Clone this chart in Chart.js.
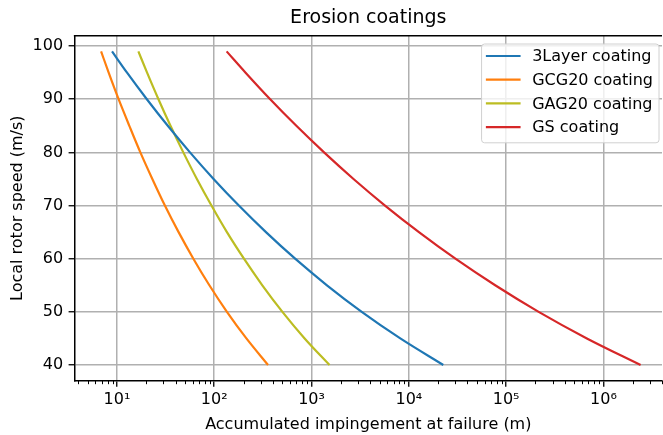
<!DOCTYPE html>
<html>
<head>
<meta charset="utf-8">
<script src="https://cdn.jsdelivr.net/npm/chart.js@4.4.0/dist/chart.umd.min.js"></script>
<style>
    html, body { margin: 0; padding: 0; background: #fff; overflow: hidden; }
</style>
</head>
<body>
<canvas id="erosionChart" width="663" height="435"></canvas>
<script>
// local rotor speed (m/s), read at these points along every curve
const speeds = [99, 95, 90, 85, 80, 75, 70, 65, 60, 55, 50, 45, 40];

// accumulated impingement at failure (m)
const layer3 = [8.9, 12.7, 20.3, 33.3, 56.3, 98.4, 179, 340, 678, 1440, 3280, 8170, 22600];
const gcg20 = [6.87, 8.22, 10.4, 13.4, 17.4, 23.1, 31.1, 43.0, 61.0, 89.1, 135, 214, 357];
const gag20 = [16.6, 20.4, 26.7, 35.5, 48.1, 66.3, 93.6, 135, 202, 312, 502, 849, 1530];
const gs = [134, 210, 376, 698, 1345, 2700, 5690, 12700, 30100, 77200, 216000, 676000, 2410000];

const seriesLabels = ['3Layer coating', 'GCG20 coating', 'GAG20 coating', 'GS coating'];
const xTicks = [10, 100, 1000, 10000, 100000, 1000000];
const xTickLabels = ['10¹', '10²', '10³', '10⁴', '10⁵', '10⁶'];
const yTicks = [40, 50, 60, 70, 80, 90, 100];

const FONT = '"DejaVu Sans", "Liberation Sans", sans-serif';
const colors = ['#1f77b4', '#ff7f0e', '#bcbd22', '#d62728'];

function toPoints(values) {
    return speeds.map((v, i) => ({ x: values[i], y: v }));
}

// top spine + minor ticks on the log axis
const framePlugin = {
    id: 'frame',
    afterDraw(chart) {
        const { ctx, chartArea } = chart;
        const xs = chart.scales.x;
        ctx.save();
        ctx.strokeStyle = '#000';
        ctx.lineWidth = 1.5;
        ctx.beginPath();
        ctx.moveTo(chartArea.left - 0.75, chartArea.top);
        ctx.lineTo(chartArea.right, chartArea.top);
        ctx.stroke();

        ctx.lineWidth = 1;
        ctx.beginPath();
        for (let d = 1; d <= 1e6; d *= 10) {
            for (let m = 2; m <= 9; m++) {
                const v = m * d;
                if (v < xs.min || v > xs.max) continue;
                const px = Math.round(xs.getPixelForValue(v)) + 0.5;
                ctx.moveTo(px, chartArea.bottom);
                ctx.lineTo(px, chartArea.bottom + 3.5);
            }
        }
        ctx.stroke();
        ctx.restore();
    }
};

// matplotlib-like legend box in the upper right corner
const legendPlugin = {
    id: 'boxLegend',
    afterDraw(chart) {
        const { ctx, chartArea } = chart;
        const sets = chart.data.datasets;
        ctx.save();
        ctx.font = '16px ' + FONT;
        const textW = Math.max(...sets.map(d => ctx.measureText(d.label).width));
        const rowH = 23.7;
        const w = 4.3 + 34.7 + 11.6 + textW + 6;
        const h = rowH * sets.length + 4;
        const right = chartArea.right - 3;
        const left = right - w;
        const top = chartArea.top + 8.3;

        ctx.beginPath();
        ctx.roundRect(left, top, w, h, 3);
        ctx.fillStyle = 'rgba(255,255,255,0.8)';
        ctx.fill();
        ctx.strokeStyle = '#d0d0d0';
        ctx.lineWidth = 1;
        ctx.stroke();

        sets.forEach((d, i) => {
            const cy = top + 12 + rowH * i;
            ctx.strokeStyle = d.borderColor;
            ctx.lineWidth = d.borderWidth;
            ctx.beginPath();
            ctx.moveTo(left + 4.3, cy);
            ctx.lineTo(left + 39, cy);
            ctx.stroke();
            ctx.fillStyle = '#000';
            ctx.textBaseline = 'middle';
            ctx.textAlign = 'left';
            ctx.fillText(d.label, left + 50.6, cy + 1);
        });
        ctx.restore();
    }
};

document.addEventListener('DOMContentLoaded', function () {
    const allSeries = [layer3, gcg20, gag20, gs];

    new Chart(document.getElementById('erosionChart'), {
        type: 'line',
        data: {
            datasets: allSeries.map((vals, i) => ({
                label: seriesLabels[i],
                data: toPoints(vals),
                borderColor: colors[i],
                backgroundColor: colors[i],
                borderWidth: 2.2,
                pointRadius: 0,
                fill: false,
                cubicInterpolationMode: 'monotone'
            }))
        },
        options: {
            responsive: false,
            animation: false,
            layout: { padding: { left: 0, right: 1, top: 0, bottom: 0 } },
            scales: {
                x: {
                    type: 'logarithmic',
                    min: 3.67,
                    max: 4.0e6,
                    afterBuildTicks: scale => { scale.ticks = xTicks.map(v => ({ value: v })); },
                    afterFit: scale => { scale.height = 54.3; },
                    ticks: {
                        autoSkip: false,
                        maxRotation: 0,
                        padding: 4,
                        color: '#000',
                        font: { family: FONT, size: 16 },
                        callback: (value, index) => xTickLabels[index]
                    },
                    grid: { color: '#b0b0b0', lineWidth: 1.5, tickColor: '#000', tickLength: 6, tickWidth: 1.3 },
                    border: { display: true, color: '#000', width: 1.5 },
                    title: {
                        display: true,
                        text: 'Accumulated impingement at failure (m)',
                        color: '#000',
                        font: { family: FONT, size: 16 },
                        padding: { top: 0, bottom: 1 }
                    }
                },
                y: {
                    type: 'linear',
                    min: 37.05,
                    max: 101.95,
                    afterBuildTicks: scale => { scale.ticks = yTicks.map(v => ({ value: v })); },
                    afterFit: scale => { scale.width = 74.6; },
                    ticks: {
                        padding: 5.5,
                        color: '#000',
                        font: { family: FONT, size: 16 }
                    },
                    grid: { color: '#b0b0b0', lineWidth: 1.5, tickColor: '#000', tickLength: 6, tickWidth: 1.3 },
                    border: { display: true, color: '#000', width: 1.5 },
                    title: {
                        display: true,
                        text: 'Local rotor speed (m/s)',
                        color: '#000',
                        font: { family: FONT, size: 16 },
                        padding: { top: 8, bottom: 0 }
                    }
                }
            },
            plugins: {
                legend: { display: false },
                tooltip: { enabled: false },
                title: {
                    display: true,
                    fullSize: false,
                    text: 'Erosion coatings',
                    color: '#000',
                    font: { family: FONT, size: 19, weight: 'normal' },
                    padding: { top: 7, bottom: 5.9 }
                }
            }
        },
        plugins: [framePlugin, legendPlugin]
    });
});
</script>
</body>
</html>
